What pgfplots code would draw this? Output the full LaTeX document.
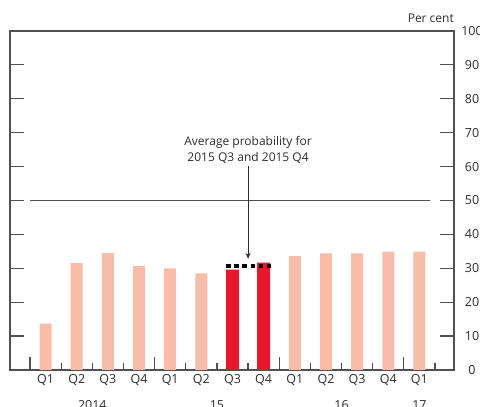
\documentclass[border=0pt]{standalone}
\usepackage{pgfplots}
\pgfplotsset{compat=1.18}
\usetikzlibrary{arrows.meta}
\usepackage{fontspec}
\setmainfont{Open Sans}

\definecolor{lightbar}{RGB}{248,189,168}
\definecolor{darkbar}{RGB}{232,24,44}
\definecolor{axisgrey}{RGB}{80,80,80}
\definecolor{textgrey}{RGB}{45,45,45}

\begin{document}
\begin{tikzpicture}[x=1pt,y=1pt]
\begin{axis}[
    at={(10pt,37pt)}, anchor=south west,
    scale only axis, width=444pt, height=339pt,
    xmin=-0.142, xmax=14.11,
    ymin=0, ymax=100,
    axis line style={axisgrey, line width=1.2pt},
    tick style={axisgrey, line width=1.2pt},
    tick align=inside,
    ytick={0,10,...,100},
    yticklabel pos=right,
    ytick pos=both,
    major tick length=14pt,
    xtick={1,...,13},
    xticklabels={Q1,Q2,Q3,Q4,Q1,Q2,Q3,Q4,Q1,Q2,Q3,Q4,Q1},
    major x tick style={draw=none},
    xtick pos=bottom,
    /pgf/number format/assume math mode=true,
    ticklabel style={font=\fontsize{12.5}{14}\selectfont, text=textgrey},
    yticklabel style={anchor=center, xshift=18pt},
    xticklabel style={yshift=-1pt},
    clip=false,
]
\addplot[ybar, bar width=12pt, bar shift=0pt, fill=lightbar, draw=none]
    coordinates {
    (1,13.7) (2,31.5) (3,34.5) (4,30.7) (5,30.0) (6,28.5)
    (9,33.6) (10,34.4) (11,34.4) (12,34.9) (13,34.9)
    };
\addplot[ybar, bar width=13pt, bar shift=0pt, fill=darkbar, draw=none]
    coordinates {(7,29.6) (8,31.7)};
% average of 2015 Q3 and Q4
\addplot[black, line width=3.2pt, dash pattern=on 4.5pt off 3.6pt]
    coordinates {(6.8,30.7) (8.22,30.7)};

% quarter ticks, taller at the year boundaries
\pgfplotsinvokeforeach{1.5,2.5,3.5,5.5,6.5,7.5,9.5,10.5,11.5,13.5}{
  \draw[axisgrey, line width=1.2pt] (axis cs:#1,0) -- (axis cs:#1,2.1);
}
\pgfplotsinvokeforeach{0.5,4.5,8.5,12.5}{
  \draw[axisgrey, line width=1.2pt] (axis cs:#1,0) -- (axis cs:#1,3.9);
}
% 50 per cent line
\draw[axisgrey, line width=1.2pt] (axis cs:0.5,50) -- (axis cs:13.34,50);
% arrow and annotation
\draw[textgrey, line width=0.9pt, -{Stealth[length=6pt,width=5pt]}]
    (axis cs:7.5,60.3) -- (axis cs:7.5,32.8);
\node[align=center, anchor=south, font=\fontsize{12}{16}\selectfont, text=textgrey, inner sep=1pt]
    at (axis cs:7.5,60.6) {Average probability for\\2015 Q3 and 2015 Q4};
\node[anchor=base east, font=\fontsize{12}{14}\selectfont, text=textgrey, inner sep=0pt]
    at (rel axis cs:1,1) [yshift=8pt] {Per cent};
% years
\node[anchor=base, font=\fontsize{12.5}{14}\selectfont, text=textgrey, inner sep=0pt]
    at (axis cs:2.5,0) [yshift=-40pt] {2014};
\node[anchor=base, font=\fontsize{12.5}{14}\selectfont, text=textgrey, inner sep=0pt]
    at (axis cs:6.5,0) [yshift=-40pt] {15};
\node[anchor=base, font=\fontsize{12.5}{14}\selectfont, text=textgrey, inner sep=0pt]
    at (axis cs:10.5,0) [yshift=-40pt] {16};
\node[anchor=base, font=\fontsize{12.5}{14}\selectfont, text=textgrey, inner sep=0pt]
    at (axis cs:13,0) [yshift=-40pt] {17};
\end{axis}
\pgfresetboundingbox
\path[use as bounding box] (0,0) rectangle (480,407);
\end{tikzpicture}
\end{document}
